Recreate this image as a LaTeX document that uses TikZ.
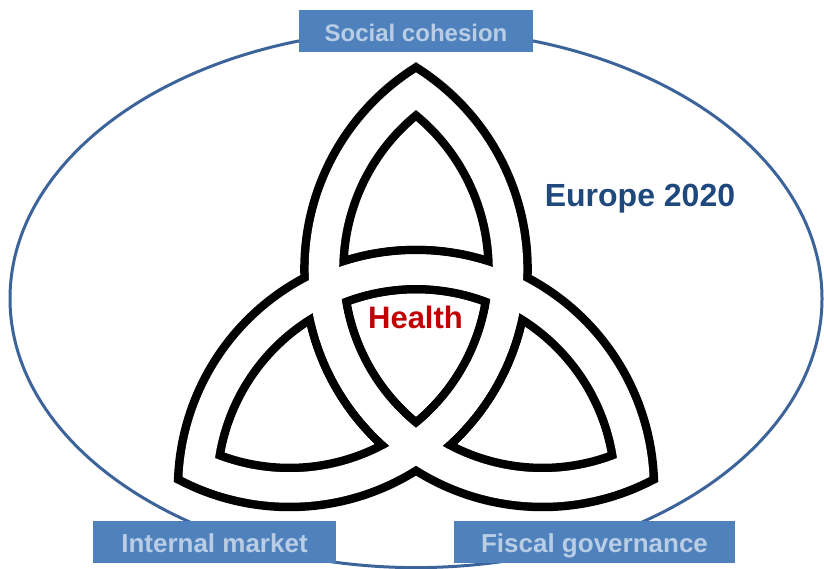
\documentclass[tikz,border=0pt]{standalone}
\usepackage{fontspec}
\setmainfont{Liberation Sans}
\definecolor{boxblue}{RGB}{79,129,189}
\definecolor{boxtext}{RGB}{185,205,229}
\definecolor{ellblue}{RGB}{60,100,155}
\definecolor{eurotext}{RGB}{31,73,125}
\definecolor{healthred}{RGB}{192,0,0}
% lens path: #1 half angle, #2 half chord, #3 radius
\newcommand{\lensp}[3]{(0,{\mm+#2}) arc[start angle={180-#1}, end angle={180+#1}, radius=#3 pt] arc[start angle={-#1}, end angle={#1}, radius=#3 pt] -- cycle}
\begin{document}
\begin{tikzpicture}[x=1pt,y=1pt,
  labelbox/.style={fill=boxblue, text=boxtext, inner sep=0pt, minimum height=42pt,
    text height=22pt, text depth=0pt, font=\fontsize{24}{28}\selectfont\bfseries},
  bigtext/.style={inner sep=0pt, anchor=base, font=\fontsize{31}{36}\selectfont\bfseries}]
\useasboundingbox (0,0) rectangle (824,569);
\pgfmathsetmacro{\lw}{8.5}
\pgfmathsetmacro{\lww}{2*\lw}
\pgfmathsetmacro{\dd}{146}
\pgfmathsetmacro{\hh}{\dd*cos(30)}
\pgfmathsetmacro{\mm}{\dd*sin(30)}
\pgfmathsetmacro{\ro}{238-\lw/2}
\pgfmathsetmacro{\ri}{199+\lw/2}
\pgfmathsetmacro{\so}{100*sqrt((\ro/100)^2-(\hh/100)^2)}
\pgfmathsetmacro{\si}{100*sqrt((\ri/100)^2-(\hh/100)^2)}
\pgfmathsetmacro{\ao}{atan(\so/\hh)}
\pgfmathsetmacro{\ai}{atan(\si/\hh)}
% Europe 2020 ellipse
\draw[ellblue, line width=3pt] (416,270.4) ellipse[x radius=406pt, y radius=269pt];
% triquetra: union of three lens rings
\begin{scope}[shift={(416,227)}]
  \foreach \k in {0,120,240}{
    \draw[line width=\lww pt, line join=miter, miter limit=10, rotate=\k]
      \lensp{\ao}{\so}{\ro} \lensp{\ai}{\si}{\ri};
  }
  \foreach \k in {0,120,240}{
    \fill[white, even odd rule, rotate=\k]
      \lensp{\ao}{\so}{\ro} \lensp{\ai}{\si}{\ri};
  }
\end{scope}
% labels
\node[labelbox, minimum width=234pt] (social) at (416,538) {Social cohesion};
\node[labelbox, minimum width=243pt, font=\fontsize{26}{30}\selectfont\bfseries] (internal) at (214.5,27) {Internal market};
\node[labelbox, minimum width=281pt, font=\fontsize{26}{30}\selectfont\bfseries] (fiscal) at (594.5,27) {Fiscal governance};
\node[bigtext, text=eurotext, font=\fontsize{32}{36}\selectfont\bfseries] (europe) at (640,362) {Europe 2020};
\node[bigtext, text=healthred] (health) at (415.5,240) {Health};
\end{tikzpicture}
\end{document}
